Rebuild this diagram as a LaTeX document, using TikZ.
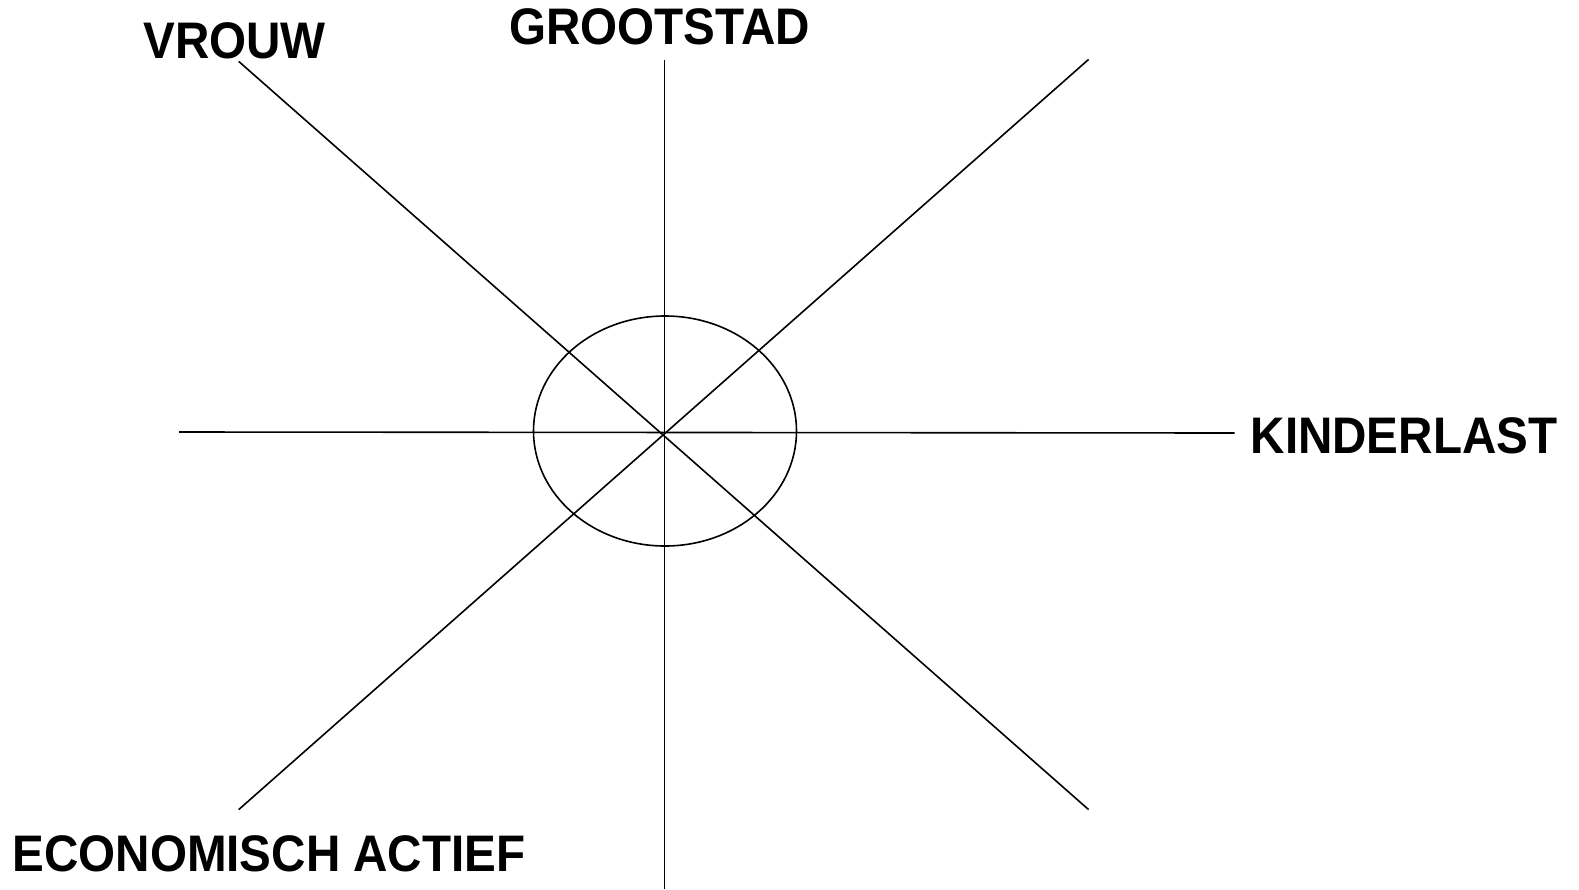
\documentclass[tikz,border=0pt]{standalone}
\usepackage{fontspec}
\setmainfont{Liberation Sans}
\newcommand{\lbltext}[1]{\scalebox{1}[1.08]{#1}}
\begin{document}
\begin{tikzpicture}[x=1pt,y=-1pt,
  axis/.style={line width=1.6pt,black},
  lbl/.style={inner sep=0pt,font=\fontsize{47.6}{47.6}\selectfont\bfseries}]
\useasboundingbox (0,0) rectangle (1579,889);
\coordinate (c) at (664.6,433);
\coordinate (n) at (664.6,60.4);
\coordinate (s) at (664.6,889);
\coordinate (w) at (179,432);
\coordinate (e) at (1234.6,433);
\coordinate (nw) at (238.7,61.4);
\coordinate (se) at (1088.6,809.6);
\coordinate (ne) at (1088.6,59.4);
\coordinate (sw) at (238.7,809.6);
\draw[axis] (n) -- (s);
\draw[axis] (w) -- (e);
\draw[axis] (nw) -- (se);
\draw[axis] (ne) -- (sw);
\draw[axis] (665,431) ellipse [x radius=131.5, y radius=115];
\node[lbl] (vrouw) at (234.6,41.3) {\lbltext{VROUW}};
\node[lbl] (grootstad) at (659.5,27.2) {\lbltext{GROOTSTAD}};
\node[lbl] (kinderlast) at (1404,436) {\lbltext{KINDERLAST}};
\node[lbl] (econ) at (269,854) {\lbltext{ECONOMISCH ACTIEF}};
\end{tikzpicture}
\end{document}
